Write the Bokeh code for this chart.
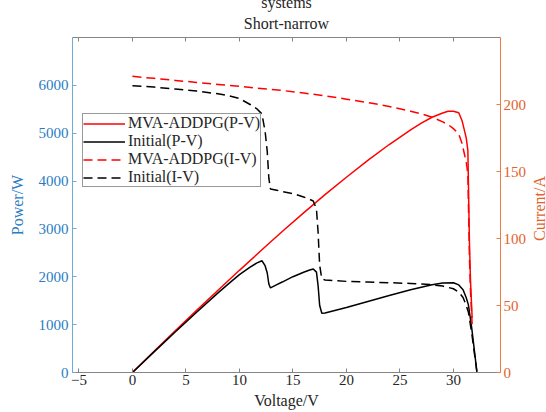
import math
from bokeh.plotting import figure
from bokeh.layouts import row
from bokeh.models import Range1d, LinearAxis, Legend, LegendItem, Title, FixedTicker, Label
from bokeh.embed import file_html
from bokeh.resources import INLINE

# ---- data ----
voltage_mva = [0, 2, 4, 6, 8, 10, 12, 14, 16, 18, 20, 22, 24, 26, 27, 28, 29, 29.5,
               30, 30.5, 30.8, 31.0, 31.2, 31.35, 31.5, 31.6, 31.75]
current_mva = [221, 219.5, 218, 216.5, 215, 213.5, 212, 210.5, 208.5, 206.5, 204, 201.5,
               198.5, 195, 193, 190.5, 187, 185, 182, 178, 171, 164, 157, 148, 85, 60, 36]
power_mva = [0, 439, 872, 1299, 1720, 2135, 2544, 2947, 3336, 3717, 4080, 4433, 4764,
             5070, 5211, 5334, 5423, 5458, 5460, 5429, 5267, 5084, 4898, 4640, 2678, 1896, 1143]

voltage_init = [0, 2, 4, 6, 8, 9, 10, 11, 11.6, 12.1, 12.4, 12.6, 12.75, 12.9, 13.5, 14,
                15, 16, 16.5, 16.9, 17.2, 17.35, 17.5, 17.7, 18, 20, 22, 24, 26, 28, 29,
                30, 30.5, 30.9, 31.2, 31.4, 31.7, 32.0, 32.2]
current_init = [214, 213, 211.5, 210, 208, 206.5, 204.5, 200, 197, 193, 180, 165, 145,
                137, 136, 135, 133.5, 131, 129.5, 128, 122, 105, 80, 70, 69, 68, 67.5, 67,
                66.5, 65.5, 64.5, 62.5, 60, 56, 50, 45, 30, 12, 0]
power_init = [0, 426, 846, 1260, 1664, 1858, 2045, 2200, 2285, 2335, 2232, 2079, 1849,
              1767, 1836, 1890, 2002, 2096, 2137, 2163, 2098, 1822, 1400, 1239, 1242, 1360,
              1485, 1608, 1729, 1834, 1870, 1875, 1830, 1730, 1560, 1413, 951, 384, 0]

x_ticks = [-5, 0, 5, 10, 15, 20, 25, 30]
power_ticks = [0, 1000, 2000, 3000, 4000, 5000, 6000]
current_ticks = [0, 50, 100, 150, 200]

FONT = "Liberation Serif"
BLUE = "#2a7cc2"
BLUE_LINE = "#6fa9d8"
ORANGE = "#e2622c"
ORANGE_LINE = "#ee7a48"
GREY = "#858585"
DARK = "#262626"

MAIN_W = 531
SIDE_W = 546 - MAIN_W
H = 412

p = figure(width=MAIN_W, height=H, output_backend="svg", toolbar_location=None,
           x_range=Range1d(-5.6, 34.4), y_range=Range1d(0, 7000),
           min_border_left=72, min_border_right=31, min_border_top=33,
           min_border_bottom=40)
p.title = None
p.extra_y_ranges = {"cur": Range1d(0, 250)}
p.xgrid.visible = False
p.ygrid.visible = False
p.outline_line_color = None
p.background_fill_color = "white"
p.border_fill_color = "white"

def style_axis(ax, line_color, label_color, ticks):
    ax.ticker = FixedTicker(ticks=ticks)
    ax.axis_line_color = line_color
    ax.major_tick_line_color = line_color
    ax.major_tick_in = 4
    ax.major_tick_out = 0
    ax.minor_tick_line_color = None
    ax.major_label_text_font = FONT
    ax.major_label_text_font_size = "15px"
    ax.major_label_text_color = label_color
    ax.axis_label_text_font = FONT
    ax.axis_label_text_font_size = "16px"
    ax.axis_label_text_font_style = "normal"
    ax.axis_label_text_color = label_color

xax = p.xaxis[0]
style_axis(xax, GREY, DARK, x_ticks)
xax.axis_label = "Voltage/V"
xax.major_label_standoff = 2
xax.axis_label_standoff = 4

yax = p.yaxis[0]
style_axis(yax, BLUE_LINE, BLUE, power_ticks)
yax.axis_label = "Power/W"
yax.major_label_standoff = 4
yax.axis_label_standoff = 10

rax = LinearAxis(y_range_name="cur")
style_axis(rax, ORANGE_LINE, ORANGE, current_ticks)
rax.major_label_standoff = 3
p.add_layout(rax, "right")

tax = LinearAxis()
style_axis(tax, GREY, DARK, x_ticks)
tax.major_label_text_font_size = "0px"
tax.major_label_standoff = 0
p.add_layout(tax, "above")

# titles: "Short-narrow" and the cut-off line "systems" above it
t_short = Title(text="Short-narrow", align="center", text_font=FONT,
                text_font_size="16px", text_font_style="normal", text_color=DARK,
                standoff=12)
p.add_layout(t_short, "above")
t_sys = Title(text="systems", align="center", text_font=FONT,
              text_font_size="16px", text_font_style="normal", text_color=DARK,
              vertical_align="top", standoff=-13)
p.add_layout(t_sys, "above")

# curves
r1 = p.line(voltage_mva, power_mva, line_color="#ff0000", line_width=1.5)
r2 = p.line(voltage_init, power_init, line_color="#000000", line_width=1.5)
r3 = p.line(voltage_mva, current_mva, line_color="#ff0000", line_width=1.5,
            line_dash="9 5", y_range_name="cur")
r4 = p.line(voltage_init, current_init, line_color="#000000", line_width=1.5,
            line_dash="9 5", y_range_name="cur")

legend = Legend(items=[
    LegendItem(label="MVA-ADDPG(P-V)", renderers=[r1]),
    LegendItem(label="Initial(P-V)", renderers=[r2]),
    LegendItem(label="MVA-ADDPG(I-V)", renderers=[r3]),
    LegendItem(label="Initial(I-V)", renderers=[r4]),
], location=(10, 185))
legend.margin = 0
legend.padding = 0
legend.spacing = 0
legend.label_height = 17
legend.glyph_height = 17
legend.glyph_width = 42
legend.label_standoff = 3
legend.label_text_font = FONT
legend.label_text_font_size = "16px"
legend.label_text_color = DARK
legend.border_line_color = "#333333"
legend.border_line_width = 1
legend.background_fill_alpha = 1
p.add_layout(legend, "center")

# narrow strip on the right carrying the right-axis title (reads bottom to top);
# its frame is aligned with the main frame (bottom at 372 px), so y is measured from there
side = figure(width=SIDE_W, height=H, output_backend="svg", toolbar_location=None,
              x_range=Range1d(0, 1), y_range=Range1d(0, 1), min_border=0,
              x_axis_location=None, y_axis_location=None)
side.xgrid.visible = False
side.ygrid.visible = False
side.outline_line_color = None
side.background_fill_color = "white"
side.border_fill_color = "white"
side.add_layout(Label(x=8, y=164, x_units="screen", y_units="screen",
                      text="Current/A", angle=math.pi / 2, anchor="center",
                      text_align="center", text_baseline="middle", text_font=FONT,
                      text_font_size="16px", text_color=ORANGE))

layout = row(p, side, spacing=0)
open("out.html", "w").write(file_html(layout, INLINE))
